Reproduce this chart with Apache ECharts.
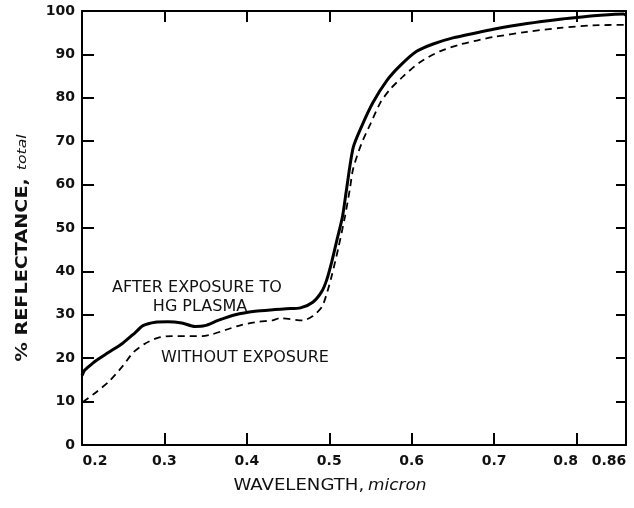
<!DOCTYPE html>
<html>
<head>
<meta charset="utf-8">
<script src="https://cdn.jsdelivr.net/npm/echarts@6/dist/echarts.min.js"></script>
<style>
html,body{margin:0;padding:0;background:#fff;}
#chart{width:634px;height:508px;}
</style>
</head>
<body>
<div id="chart"></div>
<script>
// Wavelength (micron) and % reflectance, after exposure to Hg plasma (solid)
const afterWl  = [0.200, 0.203, 0.206, 0.216, 0.232, 0.249, 0.264, 0.274, 0.289, 0.304, 0.321, 0.337, 0.349, 0.365, 0.386, 0.410, 0.434, 0.448, 0.465, 0.480, 0.491, 0.497, 0.503, 0.509, 0.516, 0.521, 0.529, 0.539, 0.553, 0.570, 0.586, 0.606, 0.626, 0.650, 0.679, 0.699, 0.740, 0.780, 0.801, 0.829, 0.857, 0.860];
const afterVal = [16.0, 17.2, 17.7, 19.3, 21.3, 23.4, 25.8, 27.5, 28.3, 28.4, 28.1, 27.3, 27.5, 28.7, 30.0, 30.8, 31.2, 31.4, 31.6, 32.9, 35.4, 38.1, 42.2, 47.0, 52.6, 59.0, 68.5, 73.3, 78.9, 84.0, 87.4, 90.7, 92.4, 93.8, 95.0, 95.8, 97.1, 98.1, 98.5, 99.0, 99.3, 99.0];
// Without exposure (dashed)
const withoutWl  = [0.201, 0.216, 0.232, 0.249, 0.262, 0.276, 0.292, 0.309, 0.325, 0.346, 0.358, 0.374, 0.394, 0.414, 0.431, 0.440, 0.468, 0.480, 0.491, 0.497, 0.503, 0.511, 0.519, 0.525, 0.529, 0.539, 0.550, 0.562, 0.574, 0.590, 0.610, 0.634, 0.659, 0.679, 0.699, 0.740, 0.780, 0.820, 0.860];
const withoutVal = [9.9, 12.0, 14.5, 18.1, 21.3, 23.3, 24.7, 25.1, 25.1, 25.1, 25.5, 26.5, 27.7, 28.4, 28.7, 29.2, 28.7, 29.7, 31.8, 34.9, 39.0, 45.4, 52.6, 59.0, 63.7, 69.4, 74.0, 78.9, 82.0, 85.0, 88.2, 90.7, 92.3, 93.2, 94.0, 95.2, 96.1, 96.7, 96.8];
// Axis ticks
const xMin = 0.2, xMax = 0.86, xStep = 0.1;
const yMin = 0, yMax = 100, yStep = 10;

const FONT = 'DejaVu Sans';
const afterData = afterWl.map((w, i) => [w, afterVal[i]]);
const withoutData = withoutWl.map((w, i) => [w, withoutVal[i]]);

const chart = echarts.init(document.getElementById('chart'), null, {renderer: 'canvas'});
const lineStyleAxis = {show: true, onZero: false, lineStyle: {color: '#000', width: 2}};
const tickIn = {show: true, inside: true, length: 12, lineStyle: {color: '#000', width: 2}};

function xFmt(v) {
  const r = Math.round(v * 100) / 100;
  if (Math.abs(r - 0.86) < 1e-6) return '{r|0.86}';
  if (Math.abs(r - 0.2) < 1e-6) return '{l|0.2}';
  if (Math.abs(r - 0.8) < 1e-6) return '{e|0.8}';
  return '{n|' + r.toFixed(1) + '}';
}
const tickFont = {fontFamily: FONT, fontSize: 14, fontWeight: 'bold', color: '#111'};

chart.setOption({
  animation: false,
  backgroundColor: '#fff',
  grid: {left: 82, right: 8, top: 11, bottom: 63, containLabel: false},
  xAxis: [{
    type: 'value', min: xMin, max: xMax, interval: xStep, position: 'bottom',
    axisLine: lineStyleAxis, axisTick: tickIn, splitLine: {show: false},
    axisLabel: {
      margin: 9, formatter: xFmt,
      rich: {
        n: tickFont,
        l: Object.assign({padding: [0, 0, 0, 26]}, tickFont),
        r: Object.assign({padding: [0, 34, 0, 0]}, tickFont),
        e: Object.assign({padding: [0, 22, 0, 0]}, tickFont)
      }
    }
  }, {
    type: 'value', min: xMin, max: xMax, interval: xStep, position: 'top',
    axisLine: lineStyleAxis, axisTick: Object.assign({}, tickIn, {length: 11}), splitLine: {show: false},
    axisLabel: {show: false}
  }],
  yAxis: [{
    type: 'value', min: yMin, max: yMax, interval: yStep, position: 'left',
    axisLine: lineStyleAxis, axisTick: tickIn, splitLine: {show: false},
    axisLabel: Object.assign({margin: 7}, tickFont)
  }, {
    type: 'value', min: yMin, max: yMax, interval: yStep, position: 'right',
    axisLine: lineStyleAxis, axisTick: Object.assign({}, tickIn, {length: 10}), splitLine: {show: false},
    axisLabel: {show: false}
  }],
  series: [{
    name: 'After exposure to Hg plasma', type: 'line', data: afterData,
    showSymbol: false, smooth: 0.25,
    lineStyle: {color: '#000', width: 3}
  }, {
    name: 'Without exposure', type: 'line', data: withoutData,
    showSymbol: false, smooth: 0.25,
    lineStyle: {color: '#000', width: 1.8, type: [7, 5]}
  }],
  graphic: [
    {type: 'text', x: 197, y: 288, style: {text: 'AFTER EXPOSURE TO', font: '16px "DejaVu Sans"', fill: '#111', align: 'center', verticalAlign: 'middle'}},
    {type: 'text', x: 200, y: 307, style: {text: 'HG PLASMA', font: '16px "DejaVu Sans"', fill: '#111', align: 'center', verticalAlign: 'middle'}},
    {type: 'text', x: 245, y: 358, style: {text: 'WITHOUT EXPOSURE', font: '16px "DejaVu Sans"', fill: '#111', align: 'center', verticalAlign: 'middle'}},
    {type: 'text', x: 330, y: 486, scaleX: 1.13, style: {
      text: '{a|WAVELENGTH,} {b|micron}', align: 'center', verticalAlign: 'middle',
      rich: {a: {fontFamily: FONT, fontSize: 16, fill: '#111', color: '#111'}, b: {fontFamily: FONT, fontSize: 15, fontStyle: 'italic', fill: '#111', color: '#111'}}
    }},
    {type: 'text', x: 23, y: 248, rotation: Math.PI / 2, scaleX: 1.2, style: {
      text: '{a|% REFLECTANCE,}  {b|total}', align: 'center', verticalAlign: 'middle',
      rich: {a: {fontFamily: FONT, fontSize: 16, fontWeight: 'bold', fill: '#111', color: '#111'}, b: {fontFamily: FONT, fontSize: 13, fontStyle: 'italic', fill: '#111', color: '#111'}}
    }}
  ]
});
</script>
</body>
</html>
